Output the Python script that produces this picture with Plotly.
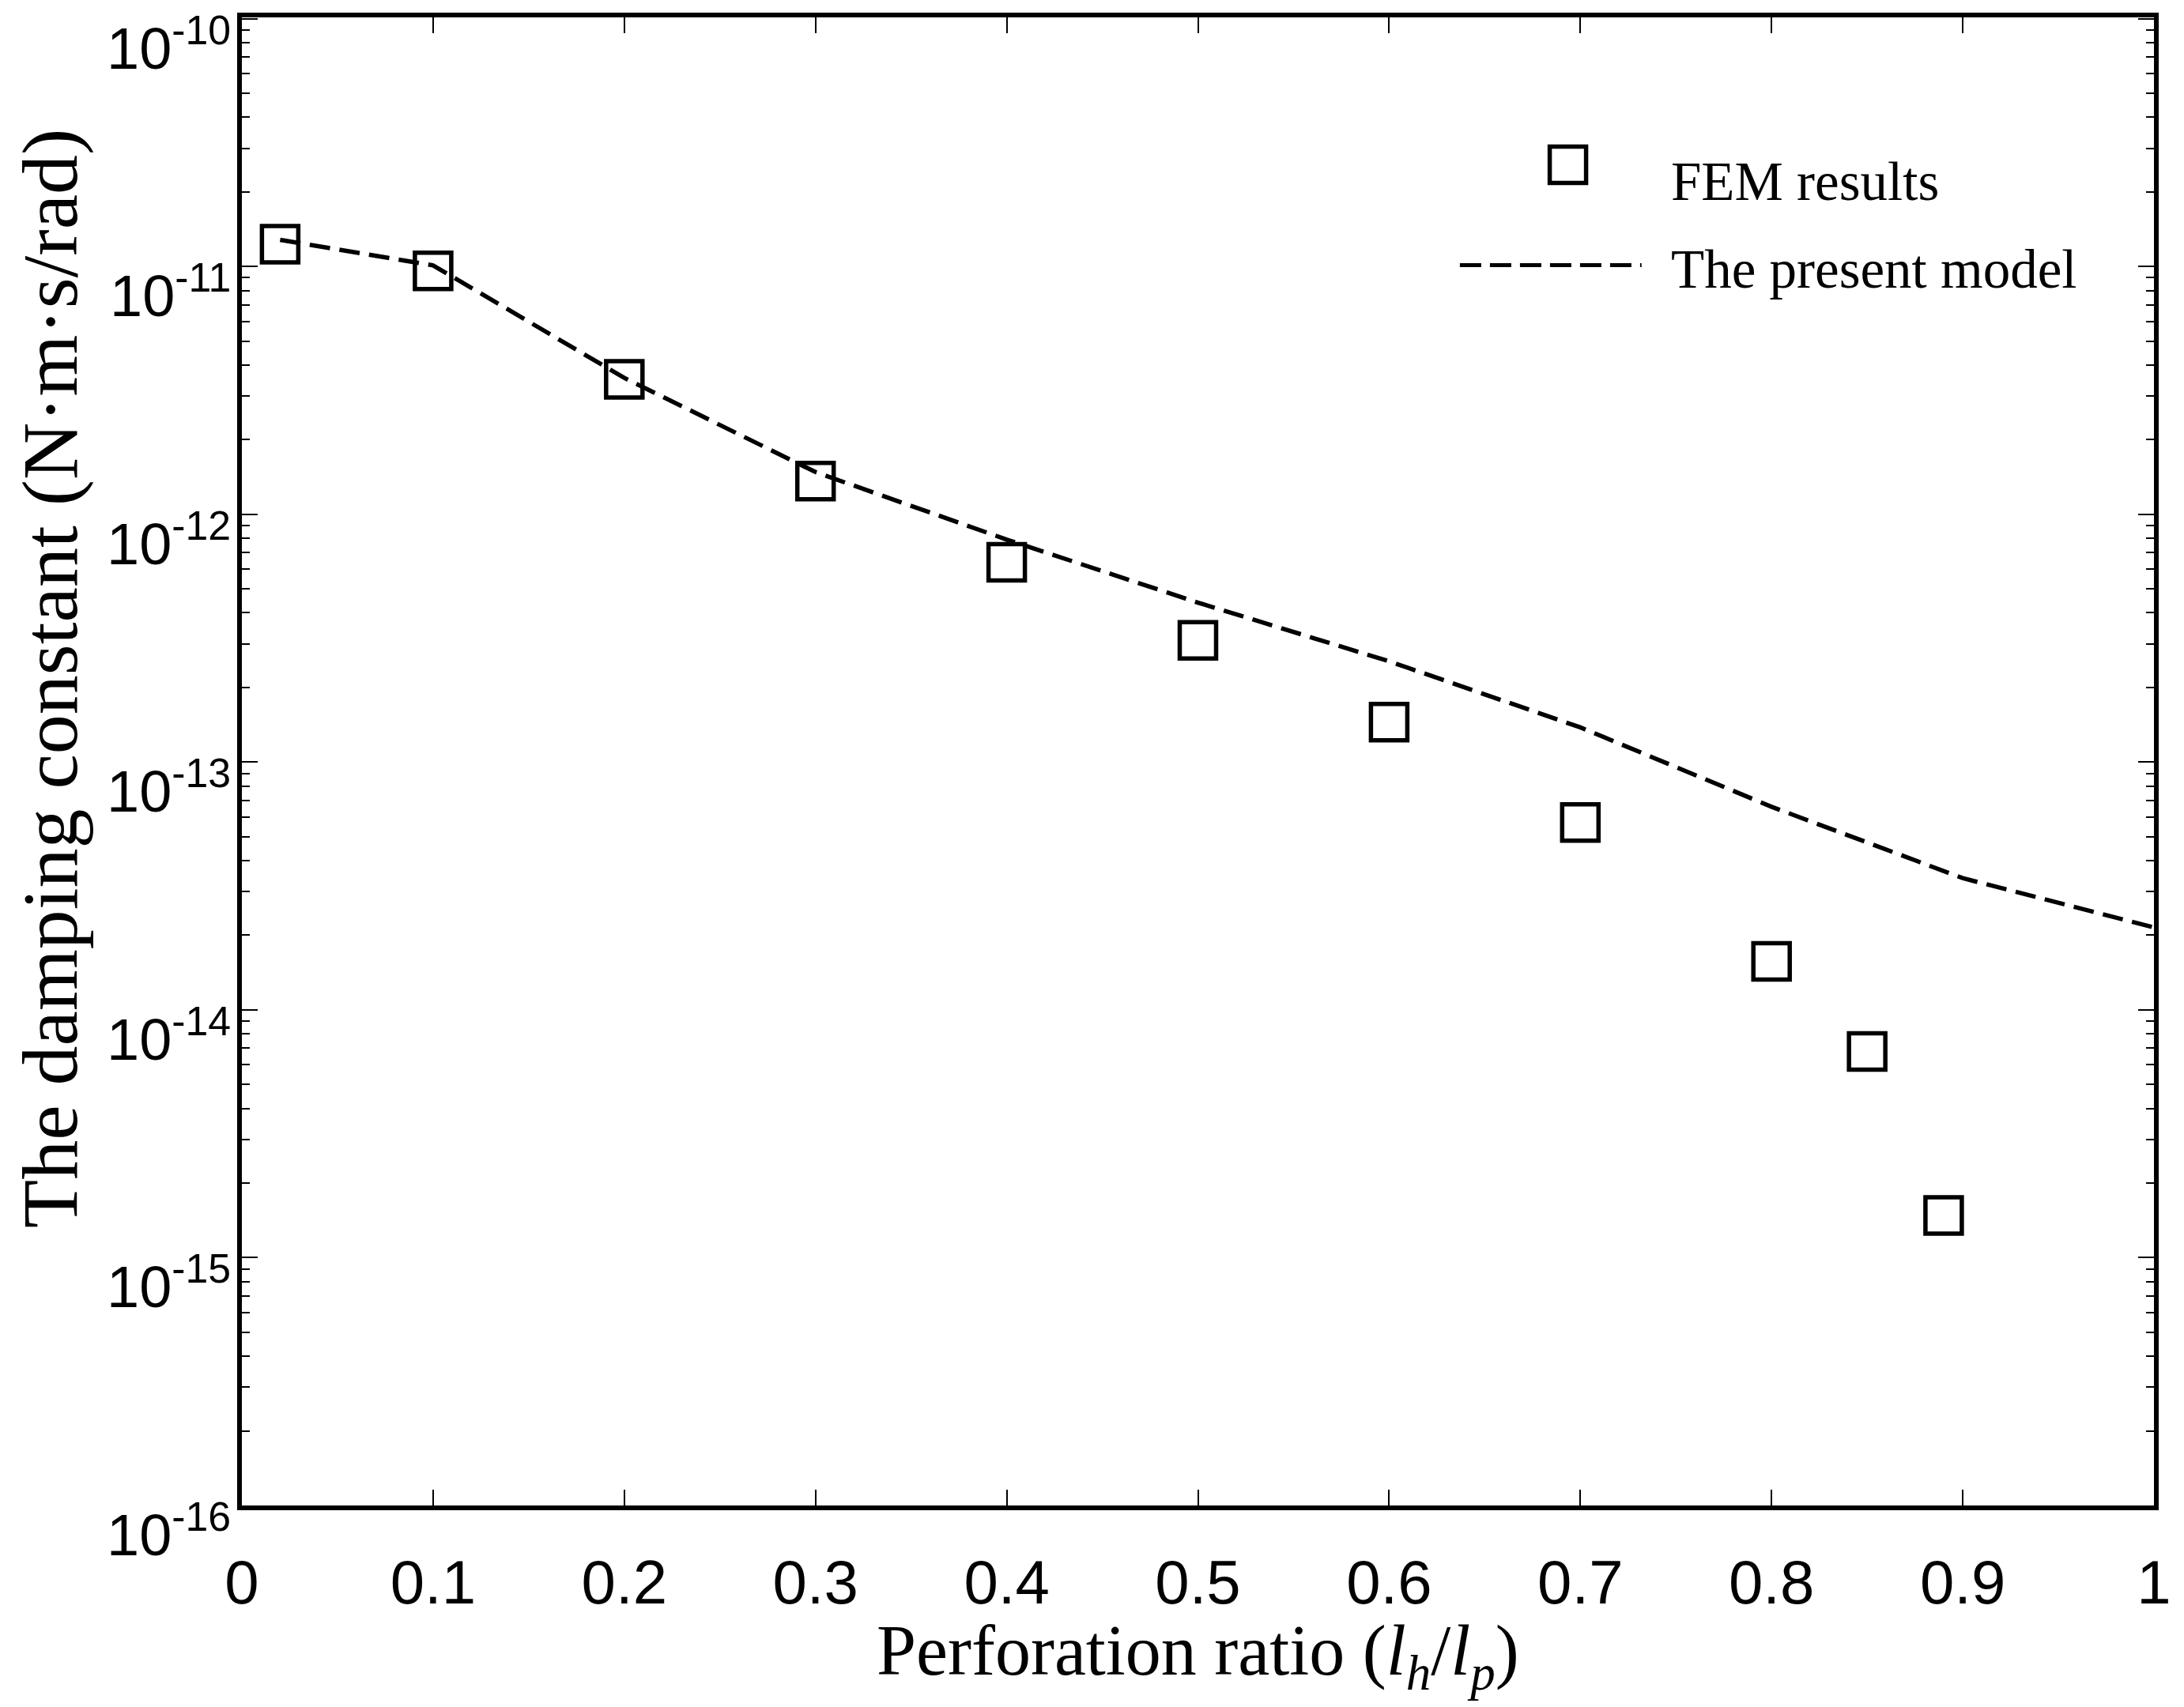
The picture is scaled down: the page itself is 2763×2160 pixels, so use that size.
import plotly.graph_objects as go

# FEM results (squares)
fem_x = [0.02, 0.1, 0.2, 0.3, 0.4, 0.5, 0.6, 0.7, 0.8, 0.85, 0.89]
fem_y = [1.23e-11, 9.6e-12, 3.5e-12, 1.36e-12, 6.4e-13, 3.1e-13, 1.45e-13, 5.7e-14, 1.57e-14, 6.8e-15, 1.48e-15]

# The present model (dashed line)
model_x = [0.02, 0.1, 0.2, 0.3, 0.4, 0.5, 0.6, 0.7, 0.8, 0.9, 1.0]
model_y = [1.28e-11, 1.01e-11, 3.55e-12, 1.48e-12, 7.9e-13, 4.4e-13, 2.55e-13, 1.38e-13, 6.6e-14, 3.4e-14, 2.15e-14]

x_ticks = [0, 0.1, 0.2, 0.3, 0.4, 0.5, 0.6, 0.7, 0.8, 0.9, 1]
x_ticktext = ["0", "0.1", "0.2", "0.3", "0.4", "0.5", "0.6", "0.7", "0.8", "0.9", "1"]
y_exps = [-16, -15, -14, -13, -12, -11, -10]
y_ticks = [10.0 ** e for e in y_exps]
y_ticktext = ["10<sup>%d</sup>" % e for e in y_exps]
y_minor = [k * 10.0 ** e for e in y_exps[:-1] for k in range(2, 10)]

legend_fem = "FEM results"
legend_model = "The present model"
x_title = "Perforation ratio (<i>l<sub>h</sub></i>/<i>l<sub>p</sub></i>)"
y_title = "The damping constant (N·m·s/rad)"

sans = "Liberation Sans, Arial, sans-serif"
serif = "Liberation Serif, Times New Roman, serif"
x_tick_font = dict(family=sans, size=78, color="black")
y_tick_font = dict(family=sans, size=74, color="black")
y_range = [-16, -9.995]

fig = go.Figure()
fig.add_trace(go.Scatter(
    x=model_x, y=model_y, mode="lines", name=legend_model,
    line=dict(color="black", width=5.5, dash="26px,12px"),
    showlegend=False,
))
fig.add_trace(go.Scatter(
    x=fem_x, y=fem_y, mode="markers", name=legend_fem,
    marker=dict(symbol="square-open", size=46, color="black", line=dict(color="black", width=5.5)),
    showlegend=False,
))

fig.update_xaxes(
    range=[0, 1], tickmode="array", tickvals=x_ticks, ticktext=x_ticktext,
    ticks="inside", ticklen=20, tickwidth=2, tickcolor="black",
    showline=True, linewidth=6, linecolor="black", mirror="ticks",
    showgrid=False, zeroline=False, tickfont=x_tick_font, ticklabelstandoff=24,
    ticklabeloverflow="allow",
)
fig.update_yaxes(
    type="log", range=y_range, tickmode="array", tickvals=y_ticks, ticktext=y_ticktext,
    ticks="inside", ticklen=20, tickwidth=2, tickcolor="black",
    minor=dict(tickmode="array", tickvals=y_minor, ticks="inside", ticklen=10, tickwidth=2, tickcolor="black"),
    showline=True, linewidth=6, linecolor="black", mirror="ticks",
    showgrid=False, zeroline=False, showticklabels=False,
)

# y tick labels as text placed just left of the frame, slightly below each tick
for e, t in zip(y_exps, y_ticktext):
    fig.add_annotation(text=t, xref="paper", yref="y", x=-0.005, y=e,
                       xanchor="right", yanchor="middle", yshift=-32, showarrow=False,
                       font=y_tick_font)

# legend drawn manually
fig.add_shape(type="rect", xref="paper", yref="paper", xsizemode="pixel", ysizemode="pixel",
              xanchor=0.6935, yanchor=0.901, x0=-23, x1=23, y0=-23, y1=23,
              line=dict(color="black", width=5.5))
fig.add_shape(type="line", xref="paper", yref="paper", x0=0.637, x1=0.732, y0=0.8335, y1=0.8335,
              line=dict(color="black", width=5, dash="27px,11px"))
fig.add_annotation(text=legend_fem, xref="paper", yref="paper", x=0.7465, y=0.8897,
                   xanchor="left", yanchor="middle", showarrow=False,
                   font=dict(family=serif, size=69, color="black"))
fig.add_annotation(text=legend_model, xref="paper", yref="paper", x=0.7465, y=0.8308,
                   xanchor="left", yanchor="middle", showarrow=False,
                   font=dict(family=serif, size=69, color="black"))

# axis titles
fig.add_annotation(text=x_title, xref="paper", yref="paper", x=0.5, y=-0.101,
                   xanchor="center", yanchor="middle", showarrow=False,
                   font=dict(family=serif, size=90, color="black"))
fig.add_annotation(text=y_title, xref="paper", yref="paper", x=-0.1005, y=0.556,
                   xanchor="center", yanchor="middle", textangle=-90, showarrow=False,
                   font=dict(family=serif, size=100, color="black"))

fig.update_layout(
    width=2747, height=2144,
    margin=dict(l=298, r=22, t=8, b=247),
    paper_bgcolor="white", plot_bgcolor="white",
    showlegend=False,
)

fig.write_html("out.html")
